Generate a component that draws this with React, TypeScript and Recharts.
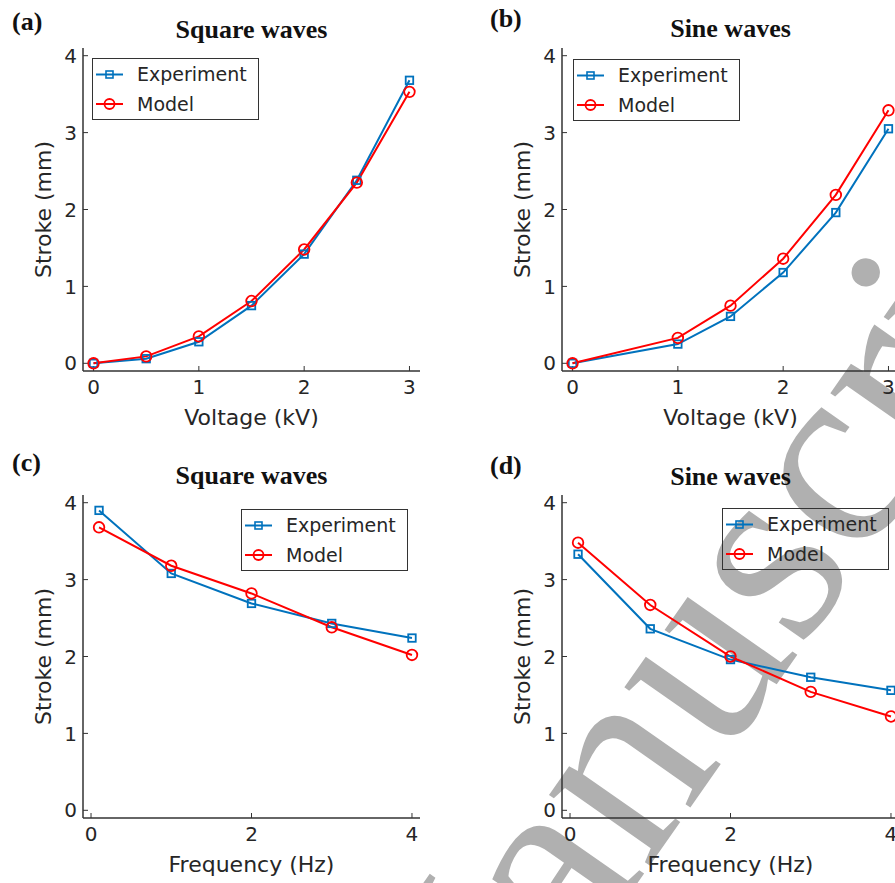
import React from "react";
import { LineChart, Line, XAxis, YAxis, Legend } from "recharts";

const FONT = "'DejaVu Sans', sans-serif";
const SERIF = "'Liberation Serif', 'Times New Roman', serif";
const INK = "#262626";
const BOX = "#333333";
const BLUE = "#0072BD";
const RED = "#FF0000";

// (a) square waves vs voltage
const voltageSquare = [0, 0.5, 1, 1.5, 2, 2.5, 3];
const squareVoltExperiment = [0, 0.06, 0.28, 0.75, 1.42, 2.38, 3.68];
const squareVoltModel = [0, 0.09, 0.35, 0.81, 1.48, 2.35, 3.53];

// (b) sine waves vs voltage
const voltageSine = [0, 1, 1.5, 2, 2.5, 3];
const sineVoltExperiment = [0, 0.25, 0.61, 1.18, 1.96, 3.05];
const sineVoltModel = [0, 0.33, 0.75, 1.36, 2.19, 3.29];

// (c), (d) vs frequency
const frequency = [0.1, 1, 2, 3, 4];
const squareFreqExperiment = [3.9, 3.08, 2.69, 2.43, 2.24];
const squareFreqModel = [3.68, 3.18, 2.82, 2.38, 2.02];
const sineFreqExperiment = [3.33, 2.36, 1.96, 1.73, 1.56];
const sineFreqModel = [3.48, 2.67, 2.0, 1.54, 1.22];

const voltageTicks = [0, 1, 2, 3];
const frequencyTicks = [0, 2, 4];
const strokeTicks = [0, 1, 2, 3, 4];

type Row = { x: number; experiment: number; model: number };
const makeRows = (xs: number[], exp: number[], mod: number[]): Row[] =>
  xs.map((x, i) => ({ x, experiment: exp[i], model: mod[i] }));

const SquareDot = (props: any) => {
  const { cx, cy, index } = props;
  if (cx == null || cy == null) return <g key={`e-${index}`} />;
  return (
    <rect key={`e-${index}`} x={cx - 3.75} y={cy - 3.75} width={7.5} height={7.5}
      fill="none" stroke={BLUE} strokeWidth={1.8} />
  );
};

function LegendBox({ rowA, rowB }: { rowA: number; rowB: number }) {
  return (
    <div style={{ position: "relative", width: 167, height: 62, border: `1.3px solid ${BOX}`, boxSizing: "border-box" }}>
      <svg width={165} height={60} style={{ position: "absolute", left: 0, top: 0 }}>
        <line x1={3} x2={30} y1={rowA} y2={rowA} stroke={BLUE} strokeWidth={2} />
        <rect x={13} y={rowA - 3.5} width={7} height={7} fill="none" stroke={BLUE} strokeWidth={1.6} />
        <text x={44} y={rowA} dy="0.36em" fontFamily={FONT} fontSize={19} fill={INK}>Experiment</text>
        <line x1={3} x2={30} y1={rowB} y2={rowB} stroke={RED} strokeWidth={2} />
        <circle cx={16.5} cy={rowB} r={5} fill="none" stroke={RED} strokeWidth={1.8} />
        <text x={44} y={rowB} dy="0.36em" fontFamily={FONT} fontSize={19} fill={INK}>Model</text>
      </svg>
    </div>
  );
}

const noTick = () => <g />;
const tickStyle = { fontSize: 20, fill: INK, fontFamily: FONT };
const axisStyle = { stroke: BOX, strokeWidth: 1.5 };

type PanelProps = {
  left: number;
  top: number;
  tag: string;
  tagX: number;
  tagY: number;
  title: string;
  titleY: number;
  xLabel: string;
  xDomain: [number, number];
  xTicks: number[];
  rows: Row[];
  legendLeft: number;
  legendTop: number;
};

function Panel(p: PanelProps) {
  return (
    <div style={{ position: "absolute", left: p.left, top: p.top, width: 440, height: 440 }}>
      <svg width={440} height={60} style={{ position: "absolute", left: 0, top: 0 }}>
        <text x={p.tagX} y={p.tagY} fontFamily={SERIF} fontWeight="bold" fontSize={26} fill="#111">{p.tag}</text>
        <text x={251.5} y={p.titleY} textAnchor="middle" fontFamily={SERIF} fontWeight="bold" fontSize={26} fill="#111">{p.title}</text>
      </svg>
      <div style={{ position: "absolute", left: 0, top: 0 }}>
        <LineChart width={440} height={440} data={p.rows} margin={{ top: 48, right: 20, bottom: 0, left: 0 }}>
          <XAxis
            dataKey="x" type="number" domain={p.xDomain} ticks={p.xTicks} allowDataOverflow interval={0}
            height={69} tickSize={-5} tickMargin={13.5} tick={tickStyle}
            axisLine={axisStyle} tickLine={{ stroke: BOX }}
            label={{
              content: (lp: any) => {
                const vb = lp.viewBox || { x: 83, y: 371, width: 337 };
                return (
                  <text x={vb.x + vb.width / 2} y={vb.y + 54} textAnchor="middle" fontFamily={FONT} fontSize={22} fill={INK}>
                    {p.xLabel}
                  </text>
                );
              },
            }}
          />
          <XAxis
            xAxisId="top" orientation="top" dataKey="x" type="number" domain={p.xDomain} ticks={p.xTicks}
            allowDataOverflow interval={0} height={0} tickSize={-5} tick={noTick}
            axisLine={axisStyle} tickLine={{ stroke: BOX }}
          />
          <YAxis
            type="number" domain={[-0.1, 4.1]} ticks={strokeTicks} allowDataOverflow interval={0}
            width={83} tickSize={-5} tickMargin={11} tick={tickStyle}
            axisLine={axisStyle} tickLine={{ stroke: BOX }}
            label={{
              content: (lp: any) => {
                const vb = lp.viewBox || { x: 0, y: 48, height: 323 };
                const cy = vb.y + vb.height / 2;
                return (
                  <text transform={`translate(51, ${cy}) rotate(-90)`} textAnchor="middle" fontFamily={FONT} fontSize={22} fill={INK}>
                    Stroke (mm)
                  </text>
                );
              },
            }}
          />
          <YAxis
            yAxisId="right" orientation="right" type="number" domain={[-0.1, 4.1]} ticks={strokeTicks}
            allowDataOverflow interval={0} width={0} tickSize={-5} tick={noTick}
            axisLine={axisStyle} tickLine={{ stroke: BOX }}
          />
          <Legend
            layout="vertical" align="center" verticalAlign="middle"
            wrapperStyle={{ position: "absolute", left: p.legendLeft, top: p.legendTop, width: 167, height: 62 }}
            content={() => <LegendBox rowA={15.5} rowB={45} />}
          />
          <Line
            type="linear" dataKey="experiment" name="Experiment" stroke={BLUE} strokeWidth={2}
            dot={SquareDot} activeDot={false} isAnimationActive={false}
          />
          <Line
            type="linear" dataKey="model" name="Model" stroke={RED} strokeWidth={2}
            dot={{ r: 5.3, fill: "none", stroke: RED, strokeWidth: 1.8 }} activeDot={false} isAnimationActive={false}
          />
        </LineChart>
      </div>
    </div>
  );
}

function Watermark() {
  // gray "Accepted Manuscript" stamp running diagonally across the lower right
  const t = "translate(578, 968) rotate(-55)";
  return (
    <svg width={895} height={883} style={{ position: "absolute", left: 0, top: 0 }}>
      <text transform={t} textAnchor="end" fontFamily={SERIF} fontSize={268} fill="#b0b0b0">Accepted M</text>
      <text transform={t} fontFamily={SERIF} fontSize={268} fill="#b0b0b0">anuscript</text>
    </svg>
  );
}

export default function App() {
  return (
    <div style={{ position: "fixed", left: 0, top: 0, width: 895, height: 883, overflow: "hidden", background: "#fff" }}>
      <Watermark />
      <Panel left={0} top={0} tag="(a)" tagX={12} tagY={30} title="Square waves" titleY={38}
        xLabel="Voltage (kV)" xDomain={[-0.1, 3.1]} xTicks={voltageTicks}
        rows={makeRows(voltageSquare, squareVoltExperiment, squareVoltModel)} legendLeft={92} legendTop={58} />
      <Panel left={479} top={0} tag="(b)" tagX={11} tagY={27} title="Sine waves" titleY={37}
        xLabel="Voltage (kV)" xDomain={[-0.1, 3.1]} xTicks={voltageTicks}
        rows={makeRows(voltageSine, sineVoltExperiment, sineVoltModel)} legendLeft={94} legendTop={59} />
      <Panel left={0} top={447} tag="(c)" tagX={12} tagY={24} title="Square waves" titleY={37}
        xLabel="Frequency (Hz)" xDomain={[-0.1, 4.1]} xTicks={frequencyTicks}
        rows={makeRows(frequency, squareFreqExperiment, squareFreqModel)} legendLeft={241} legendTop={62} />
      <Panel left={479} top={447} tag="(d)" tagX={11} tagY={27} title="Sine waves" titleY={38}
        xLabel="Frequency (Hz)" xDomain={[-0.1, 4.1]} xTicks={frequencyTicks}
        rows={makeRows(frequency, sineFreqExperiment, sineFreqModel)} legendLeft={243} legendTop={61} />
    </div>
  );
}
